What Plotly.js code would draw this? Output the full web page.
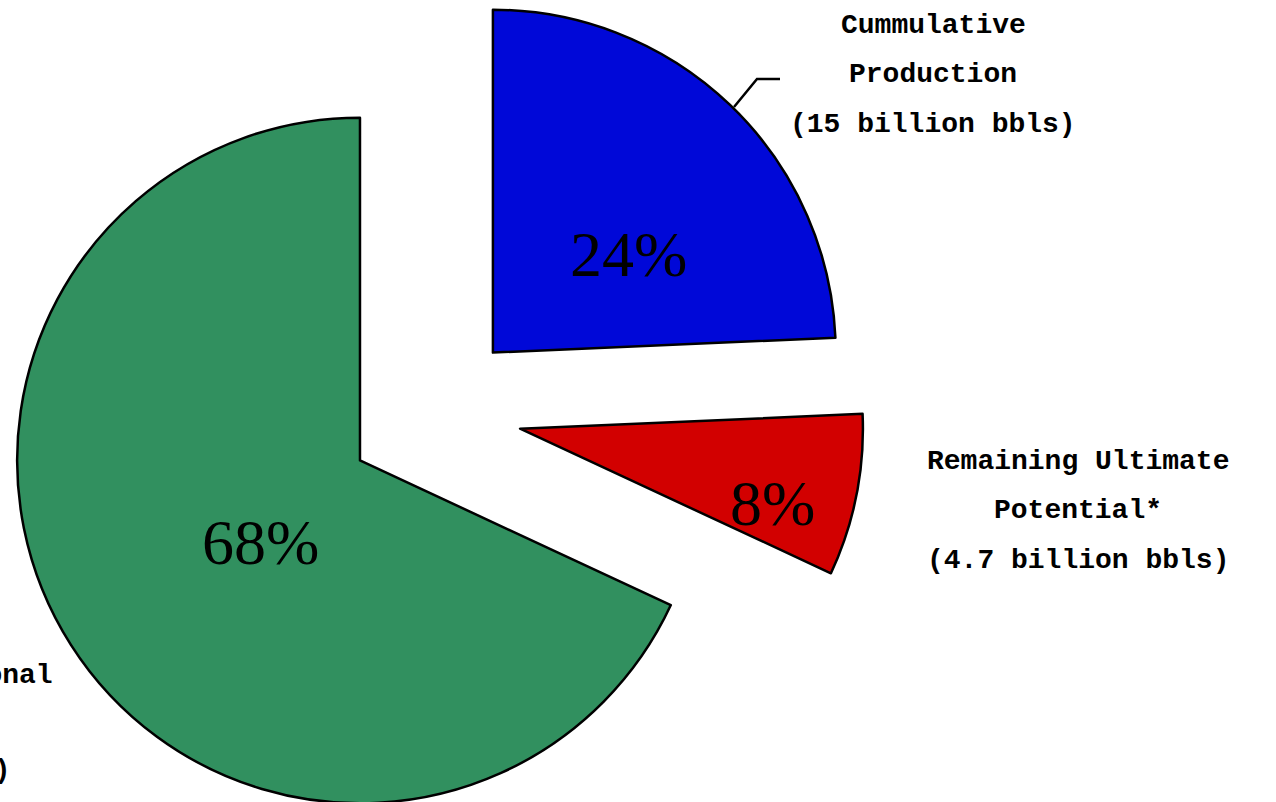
<!DOCTYPE html>
<html><head><meta charset="utf-8">
<script src="https://cdn.plot.ly/plotly-3.0.1.min.js"></script>
<style>
html,body{margin:0;padding:0;overflow:hidden;background:#ffffff;width:1276px;height:802px;}
#chart{position:absolute;left:0;top:-21px;width:1276px;height:866px;}
</style>
</head><body><div id="chart"></div>
<script>
// ---- data ----
const categories = ["Cummulative Production", "Remaining Ultimate Potential*", "Remaining Conventional Reserves"];
const values = [15, 4.7, 42];            // billion bbls
const colors = ["#0008d8", "#d20000", "#31905f"];
const pulls = [0.24, 0.25, 0.263];
const labelLines = [
  ["Cummulative", "Production", "(15 billion bbls)"],
  ["Remaining Ultimate", "Potential*", "(4.7 billion bbls)"],
  ["Remaining Conventional", "Reserves", "(42 billion bbls)"]
];

// ---- layout helpers (page pixels -> paper) ----
const W = 1276, H = 866, OFF = 21;
const px = x => x / W;
const py = y => 1 - (y + OFF) / H;

const labelPos = [
  {x: 933, y: [26, 75, 125]},
  {x: 1078, y: [461, 510, 560]},
  {x: -132, y: [675, 722, 770]}
];
const pctPos = [[628, 254], [772, 503], [260, 542]];

const total = values.reduce((a, b) => a + b, 0);
const annotations = [];
values.forEach((v, i) => {
  annotations.push({
    xref: 'paper', yref: 'paper',
    x: px(pctPos[i][0]), y: py(pctPos[i][1]),
    xanchor: 'center', yanchor: 'middle',
    text: Math.round(v / total * 100) + '%', showarrow: false,
    font: {family: 'Liberation Serif, Times New Roman, serif', size: 64, color: '#000'}
  });
});
labelLines.forEach((lines, i) => {
  lines.forEach((t, j) => {
    annotations.push({
      xref: 'paper', yref: 'paper',
      x: px(labelPos[i].x), y: py(labelPos[i].y[j]),
      xanchor: 'center', yanchor: 'middle',
      text: t, showarrow: false,
      font: {family: 'Liberation Mono, Courier New, monospace', size: 28, color: '#000', weight: 'bold'}
    });
  });
});

const toPath = pts => 'M ' + pts.map(p => px(p[0]) + ',' + py(p[1])).join(' L ');
const leader = [[734,107],[757,79],[780,79]];
const shapes = [
  {type: 'path', xref: 'paper', yref: 'paper', path: toPath(leader),
   line: {color: '#000', width: 2.5}}
];

const trace = {
  type: 'pie',
  labels: categories,
  values: values,
  sort: false,
  direction: 'clockwise',
  rotation: 0,
  pull: pulls,
  marker: {colors: colors, line: {color: '#000', width: 2.5}},
  textinfo: 'none',
  hoverinfo: 'none',
  showlegend: false,
  domain: {x: [0, 872 / W], y: [0, 1]}
};

const layout = {
  width: W, height: H,
  margin: {l: 0, r: 0, t: 0, b: 0},
  paper_bgcolor: '#ffffff',
  showlegend: false,
  annotations: annotations,
  shapes: shapes
};

Plotly.newPlot('chart', [trace], layout, {displayModeBar: false, staticPlot: true});
</script>
</body></html>
